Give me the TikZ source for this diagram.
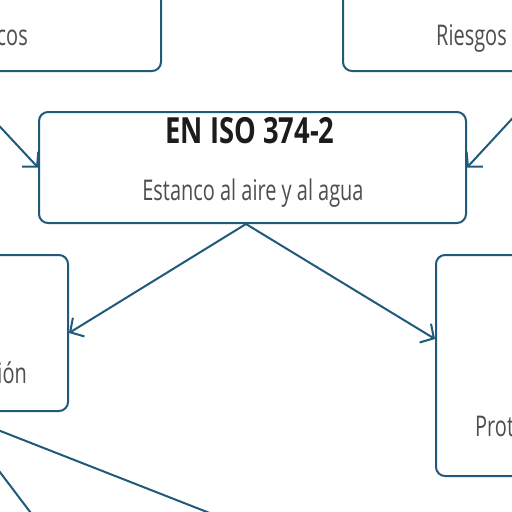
\documentclass[tikz,border=0pt]{standalone}
\usepackage{fontspec}
\setmainfont{Open Sans}[FakeStretch=0.70]
\newfontfamily\ttlfont{Open Sans}[FakeStretch=0.76]
\usetikzlibrary{arrows.meta}
\definecolor{linec}{HTML}{1F5A7A}
\definecolor{txtc}{HTML}{4E4E4E}
\definecolor{ttlc}{HTML}{1C1C1C}
\tikzset{
  box/.style={draw=linec, line width=2pt, rounded corners=9pt, fill=white, inner sep=0pt},
  conn/.style={draw=linec, line width=2pt},
  arr/.style={conn, -{Straight Barb[length=10pt,width=22pt,line width=2pt]}},
  lbl/.style={text=txtc, font=\fontsize{28.5}{31}\selectfont, inner sep=0pt},
}
\begin{document}
\begin{tikzpicture}[x=1pt,y=-1pt]
\useasboundingbox (0,0) rectangle (512,512);
\clip (0,0) rectangle (512,512);
% boxes
\node[box, minimum width=400pt, minimum height=150pt, anchor=south east] (tl) at (162,72) {};
\node[box, minimum width=400pt, minimum height=150pt, anchor=south west] (tr) at (342,72) {};
\node[box, minimum width=427pt, minimum height=111pt, anchor=north west] (ctr) at (38,111) {};
\node[box, minimum width=300pt, minimum height=156pt, anchor=north east] (lb) at (69,254) {};
\node[box, minimum width=300pt, minimum height=221pt, anchor=north west] (rb) at (435,254) {};
% texts
\node[lbl, anchor=east] (t1) at (28,38) {cos};
\node[lbl, anchor=east] (t2) at (507,38) {Riesgos};
\node[text=ttlc, font=\ttlfont\bfseries\fontsize{36}{40}\selectfont, inner sep=0pt] (t3) at (250,131) {EN ISO 374-2};
\node[lbl] (t4) at (253,193) {Estanco al aire y al agua};
\node[lbl, anchor=east] (t5) at (27,373) {ión};
\node[lbl, anchor=west] (t6) at (475,426) {Prot};
% connectors
\coordinate (a1) at (-10,116);
\coordinate (a2) at (522,108);
\coordinate (b1) at (246,224);
\coordinate (c1) at (-20,423);
\coordinate (c2) at (230,521);
\coordinate (d1) at (-10,459);
\coordinate (d2) at (40,525);
\draw[arr] (a1) -- (ctr.west);
\draw[arr] (a2) -- (ctr.east);
\draw[arr] (b1) -- (lb.east);
\draw[arr] (b1) -- ([yshift=26.5pt]rb.west);
\draw[conn] (c1) -- (c2);
\draw[conn] (d1) -- (d2);
\end{tikzpicture}
\end{document}
